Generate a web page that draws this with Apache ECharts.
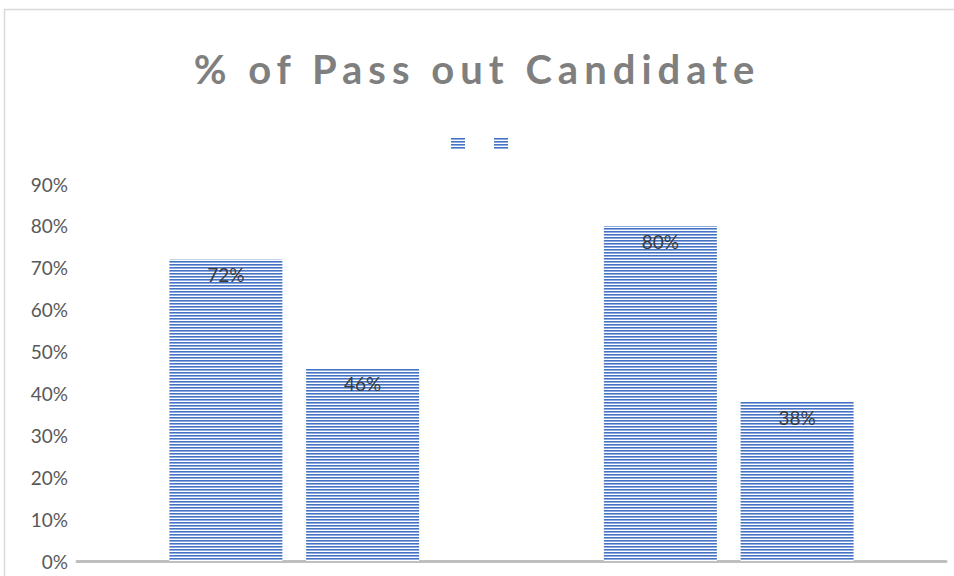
<!DOCTYPE html>
<html>
<head>
<meta charset="utf-8">
<script src="https://cdn.jsdelivr.net/npm/echarts@6/dist/echarts.min.js"></script>
<style>
html,body{margin:0;padding:0;background:#fff;}
#chart{width:954px;height:576px;}
</style>
</head>
<body>
<div id="chart"></div>
<script>
var titleText = '% of Pass out Candidate';
var categories = ['1', '2'];
var seriesNames = ['Series1', 'Series2'];
var series1Values = [0.72, 0.80];
var series2Values = [0.46, 0.38];
var yTicks = [0, 0.1, 0.2, 0.3, 0.4, 0.5, 0.6, 0.7, 0.8, 0.9];

function makePattern() {
  var c = document.createElement('canvas');
  c.width = 4; c.height = 3;
  var ctx = c.getContext('2d');
  ctx.fillStyle = '#ffffff'; ctx.fillRect(0, 0, 4, 3);
  ctx.fillStyle = '#4472c4'; ctx.fillRect(0, 0, 4, 1);
  ctx.fillStyle = '#8faadc'; ctx.fillRect(0, 1, 4, 1);
  return c.toDataURL();
}
var pat = { image: makePattern(), repeat: 'repeat' };

var chart = echarts.init(document.getElementById('chart'), null, { renderer: 'svg' });
var labelStyle = {
  show: true, position: 'insideTop', distance: 6,
  color: '#3a3a3a', fontSize: 19, fontFamily: 'Lato', fontWeight: 'normal',
  formatter: function (p) { return Math.round(p.value * 100) + '%'; }
};
chart.setOption({
  animation: false,
  backgroundColor: '#ffffff',
  title: {
    text: titleText, left: 'center', top: 44,
    textStyle: { fontFamily: 'Lato', fontSize: 40, fontWeight: 'bold', color: '#7f7f7f' }
  },
  graphic: [{
    type: 'rect', silent: true, z: -1,
    shape: { x: 4.5, y: 9.5, width: 970, height: 620 },
    style: { fill: 'none', stroke: '#d9d9d9', lineWidth: 1.5 }
  }],
  legend: {
    data: seriesNames, left: 446, top: 133, icon: 'rect',
    itemWidth: 14, itemHeight: 11, itemGap: 29,
    formatter: function () { return ''; },
    textStyle: { fontSize: 12 }
  },
  grid: { left: 77, right: 8, top: 184, bottom: 15, containLabel: false },
  xAxis: {
    type: 'category', data: categories,
    axisLine: { lineStyle: { color: '#bfbfbf', width: 3 } },
    axisTick: { show: false }, axisLabel: { show: false }, splitLine: { show: false }
  },
  yAxis: {
    type: 'value', min: yTicks[0], max: yTicks[yTicks.length - 1], interval: 0.1,
    axisLine: { show: false }, axisTick: { show: false }, splitLine: { show: false },
    axisLabel: {
      margin: 9, color: '#595959', fontSize: 19, fontFamily: 'Lato',
      formatter: function (v) { return Math.round(v * 100) + '%'; }
    }
  },
  series: [
    { name: seriesNames[0], type: 'bar', data: series1Values, barWidth: 113, barGap: '21%',
      itemStyle: { color: pat }, label: labelStyle },
    { name: seriesNames[1], type: 'bar', data: series2Values, barWidth: 113, barGap: '21%',
      itemStyle: { color: pat }, label: labelStyle }
  ]
});
var texts = document.querySelectorAll('#chart text');
for (var i = 0; i < texts.length; i++) {
  if (texts[i].textContent === titleText) {
    texts[i].style.letterSpacing = '6px';
  }
}
</script>
</body>
</html>
